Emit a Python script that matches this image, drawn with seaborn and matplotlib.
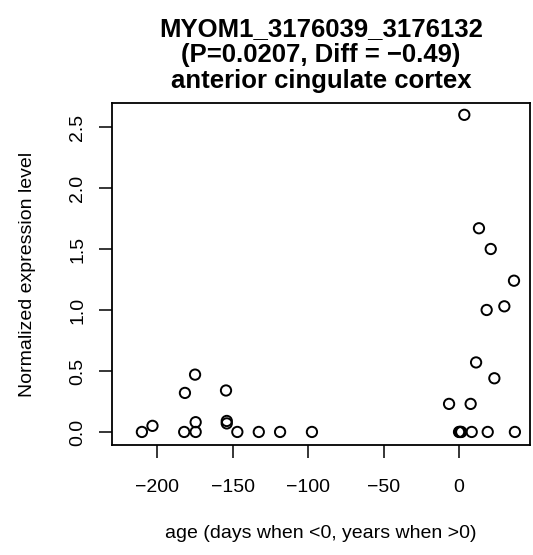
import matplotlib
matplotlib.use("Agg")
import matplotlib.pyplot as plt
import seaborn as sns
import pandas as pd

# values
age = [-210, -203, -181.5, -174.8, -182, -174.4, -174.4, -154.3, -153.8, -153.8,
       -146.8, -132.6, -118.5, -97.4,
       3.5, 13.2, 21, 36.4, 30, 18.3, 11.3, 23.4, -6.6, 7.7,
       0, 0.5, 1, 1.5, 8.4, 19, 37]
expression = [0, 0.05, 0.32, 0.47, 0, 0, 0.08, 0.34, 0.09, 0.07,
              0, 0, 0, 0,
              2.6, 1.67, 1.5, 1.24, 1.03, 1.0, 0.57, 0.44, 0.23, 0.23,
              0, 0, 0, 0, 0, 0, 0]
x_ticks = [-200, -150, -100, -50, 0]
y_ticks = [0.0, 0.5, 1.0, 1.5, 2.0, 2.5]

df = pd.DataFrame({"age": age, "expr": expression})

sns.set_style("white")
plt.rcParams["font.family"] = ["Liberation Sans", "DejaVu Sans"]
plt.rcParams["text.color"] = "black"
plt.rcParams["axes.labelcolor"] = "black"

fig = plt.figure(figsize=(5.33, 5.55), dpi=100)
ax = fig.add_axes([112 / 533, 110 / 555, 418 / 533, 342 / 555])

sns.scatterplot(data=df, x="age", y="expr", ax=ax, s=55,
                facecolor="none", edgecolor="black", linewidth=1.4)

ax.set_xlim(-229.8, 47)
ax.set_ylim(-0.107, 2.697)
ax.set_xticks(x_ticks)
ax.set_xticklabels(["\u2212200", "\u2212150", "\u2212100", "\u221250", "0"])
ax.set_yticks(y_ticks)
ax.set_yticklabels([f"{v:.1f}" for v in y_ticks], rotation=90, va="center")
ax.tick_params(direction="out", length=9.4, width=1.1, labelsize=14,
               colors="black", bottom=True, left=True)
ax.tick_params(axis="x", pad=15)
ax.tick_params(axis="y", pad=9)

for sp in ax.spines.values():
    sp.set_linewidth(1.3)
    sp.set_color("black")

ax.set_xlabel("age (days when <0, years when >0)", fontsize=14, labelpad=21, color="black")
ax.set_ylabel("Normalized expression level", fontsize=14, labelpad=24, color="black")
ax.set_title("MYOM1_3176039_3176132\n(P=0.0207, Diff = \u22120.49)\nanterior cingulate cortex",
             fontsize=18.5, fontweight="bold", linespacing=1.1, pad=11, color="black")

fig.savefig("out.png", dpi=100)
